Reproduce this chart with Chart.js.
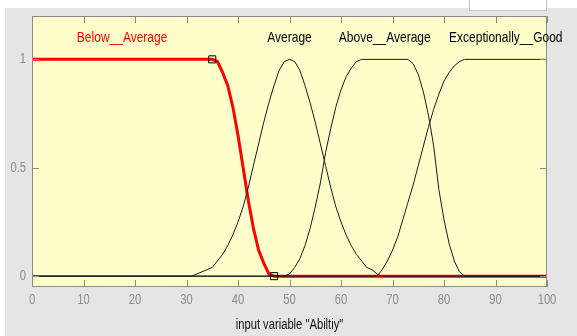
<!DOCTYPE html>
<html>
<head>
<meta charset="utf-8">
<script src="https://cdn.jsdelivr.net/npm/chart.js@4.4.1/dist/chart.umd.min.js"></script>
<style>
  html, body { margin: 0; padding: 0; background: #ffffff; }
  #frame { position: absolute; left: 5px; top: 8px; width: 572px; height: 328px; background: #e5e5e5; }
  #tab { position: absolute; left: 469px; top: 0; width: 76px; height: 10px; background: #ffffff; border: 1px solid #c4c4c4; border-top: none; }
  #chartBox { position: absolute; left: 0; top: 0; width: 577px; height: 336px; }
</style>
</head>
<body>
<div id="frame"></div>
<div id="tab"></div>
<div id="chartBox"><canvas id="mfChart" width="577" height="336"></canvas></div>
<script>
// membership function names and where their labels sit (x in input units)
const mfNames = ['Below__Average', 'Average', 'Above__Average', 'Exceptionally__Good'];
const mfLabelCenters = [17.5, 50, 68.5, 92];

// Below__Average (the selected MF, drawn red)
const belowAvgX = [0, 35, 36, 37, 38, 39, 40, 41, 42, 43, 44, 45, 46, 47, 100];
const belowAvgY = [1, 1, 0.99, 0.94, 0.88, 0.78, 0.65, 0.5, 0.35, 0.22, 0.12, 0.06, 0.01, 0, 0];
const belowAvgKnots = [35, 47];

// Average
const averageX = [0, 31, 32, 33, 34, 35, 36, 37, 38, 39, 40, 41, 42, 43, 44, 45, 46, 47, 48, 49, 50,
                  51, 52, 53, 54, 55, 56, 57, 58, 59, 60, 61, 62, 63, 64, 65, 66, 67, 68, 100];
const averageY = [0, 0, 0.01, 0.02, 0.03, 0.04, 0.07, 0.1, 0.14, 0.19, 0.25, 0.32, 0.41, 0.51, 0.61, 0.71, 0.8, 0.88, 0.95, 0.99, 1,
                  0.99, 0.95, 0.88, 0.8, 0.71, 0.61, 0.51, 0.41, 0.32, 0.25, 0.19, 0.14, 0.1, 0.07, 0.04, 0.03, 0.01, 0, 0];

// Above__Average
const aboveAvgX = [0, 49, 50, 51, 52, 53, 54, 55, 56, 57, 58, 59, 60, 61, 62, 63, 64,
                   73, 74, 75, 76, 77, 78, 79, 80, 81, 82, 83, 84, 100];
const aboveAvgY = [0, 0, 0.01, 0.04, 0.08, 0.14, 0.22, 0.32, 0.43, 0.57, 0.68, 0.78, 0.86, 0.92, 0.96, 0.99, 1,
                   1, 0.98, 0.93, 0.85, 0.74, 0.6, 0.4, 0.26, 0.15, 0.07, 0.02, 0, 0];

// Exceptionally__Good
const excGoodX = [0, 67, 68, 69, 70, 71, 72, 73, 74, 75, 76, 77, 78, 79, 80, 81, 82, 83, 84, 100];
const excGoodY = [0, 0, 0.03, 0.07, 0.12, 0.18, 0.26, 0.34, 0.42, 0.51, 0.6, 0.69, 0.77, 0.84, 0.9, 0.94, 0.97, 0.99, 1, 1];

// axis ticks
const xTickValues = [0, 10, 20, 30, 40, 50, 60, 70, 80, 90, 100];
const yTickValues = [0, 0.5, 1];
const xTitle = 'input variable "Abiltiy"';

const baseFont = '"Liberation Sans", Arial, sans-serif';
const squeeze = 0.8;   // matlab's text looks horizontally condensed

const toPoints = (xs, ys) => xs.map((x, i) => ({ x: x, y: ys[i] }));

function condensedText(ctx, text, x, y) {
    ctx.save();
    ctx.translate(x, y);
    ctx.scale(squeeze, 1);
    ctx.fillText(text, 0, 0);
    ctx.restore();
}

// yellow axes background, box, inward ticks, tick labels and MF names (matlab style)
const mfPlot = {
    id: 'mfPlot',
    beforeDraw(chart) {
        const { ctx, chartArea: a } = chart;
        ctx.save();
        ctx.fillStyle = '#ffffcc';
        ctx.fillRect(a.left, a.top, a.right - a.left, a.bottom - a.top);
        ctx.restore();
    },
    afterDraw(chart) {
        const { ctx, chartArea: a } = chart;
        const x = chart.scales.x;
        const y = chart.scales.y;
        ctx.save();
        ctx.strokeStyle = '#8a8a8a';
        ctx.lineWidth = 1;
        ctx.strokeRect(a.left + 0.5, a.top + 0.5, a.right - a.left - 1, a.bottom - a.top - 1);
        ctx.beginPath();
        xTickValues.forEach(v => {
            const px = Math.round(x.getPixelForValue(v)) + 0.5;
            ctx.moveTo(px, a.bottom); ctx.lineTo(px, a.bottom - 7);
            ctx.moveTo(px, a.top); ctx.lineTo(px, a.top + 7);
        });
        yTickValues.forEach(v => {
            const py = Math.round(y.getPixelForValue(v)) + 0.5;
            ctx.moveTo(a.left, py); ctx.lineTo(a.left + 7, py);
            ctx.moveTo(a.right, py); ctx.lineTo(a.right - 7, py);
        });
        ctx.stroke();

        // tick labels
        ctx.font = '14px ' + baseFont;
        ctx.fillStyle = '#8c8c8c';
        ctx.textBaseline = 'middle';
        ctx.textAlign = 'center';
        xTickValues.forEach(v => condensedText(ctx, String(v), x.getPixelForValue(v), a.bottom + 13));
        ctx.textAlign = 'right';
        yTickValues.forEach(v => condensedText(ctx, String(v), a.left - 6, y.getPixelForValue(v)));

        // axis title
        ctx.fillStyle = '#111111';
        ctx.textAlign = 'center';
        condensedText(ctx, xTitle, (a.left + a.right) / 2, a.bottom + 38);

        // membership function names
        ctx.font = '15px ' + baseFont;
        mfNames.forEach((name, i) => {
            ctx.fillStyle = i === 0 ? '#ff0000' : '#000000';
            condensedText(ctx, name, x.getPixelForValue(mfLabelCenters[i]), y.getPixelForValue(1.1));
        });
        ctx.restore();
    }
};

const ctx = document.getElementById('mfChart').getContext('2d');
new Chart(ctx, {
    type: 'scatter',
    data: {
        datasets: [{
            label: mfNames[0],
            data: toPoints(belowAvgX, belowAvgY),
            showLine: true,
            borderColor: '#ff0000',
            borderWidth: 3,
            pointStyle: 'rect',
            pointRadius: c => (c.raw && belowAvgKnots.includes(c.raw.x) ? 5 : 0),
            pointBorderColor: '#000000',
            pointBackgroundColor: 'rgba(0,0,0,0)',
            pointBorderWidth: 1,
            order: 5
        }, {
            label: mfNames[1],
            data: toPoints(averageX, averageY),
            showLine: true,
            borderColor: '#1a1a1a',
            borderWidth: 1,
            pointRadius: 0,
            order: 1
        }, {
            label: mfNames[2],
            data: toPoints(aboveAvgX, aboveAvgY),
            showLine: true,
            borderColor: '#1a1a1a',
            borderWidth: 1,
            pointRadius: 0,
            order: 1
        }, {
            label: mfNames[3],
            data: toPoints(excGoodX, excGoodY),
            showLine: true,
            borderColor: '#1a1a1a',
            borderWidth: 1,
            pointRadius: 0,
            order: 1
        }]
    },
    options: {
        responsive: false,
        devicePixelRatio: 1,
        animation: false,
        layout: { padding: { left: 0, right: 30, top: 16, bottom: 0 } },
        plugins: {
            legend: { display: false },
            tooltip: { enabled: false }
        },
        scales: {
            x: {
                type: 'linear',
                min: 0,
                max: 100,
                afterBuildTicks: s => { s.ticks = xTickValues.map(v => ({ value: v })); },
                afterFit: s => { s.height = 49; },
                grid: { display: false, drawTicks: false },
                border: { display: false },
                ticks: { display: false }
            },
            y: {
                type: 'linear',
                min: -0.05,
                max: 1.2,
                afterBuildTicks: s => { s.ticks = yTickValues.map(v => ({ value: v })); },
                afterFit: s => { s.width = 32; },
                grid: { display: false, drawTicks: false },
                border: { display: false },
                ticks: { display: false }
            }
        }
    },
    plugins: [mfPlot]
});
</script>
</body>
</html>
